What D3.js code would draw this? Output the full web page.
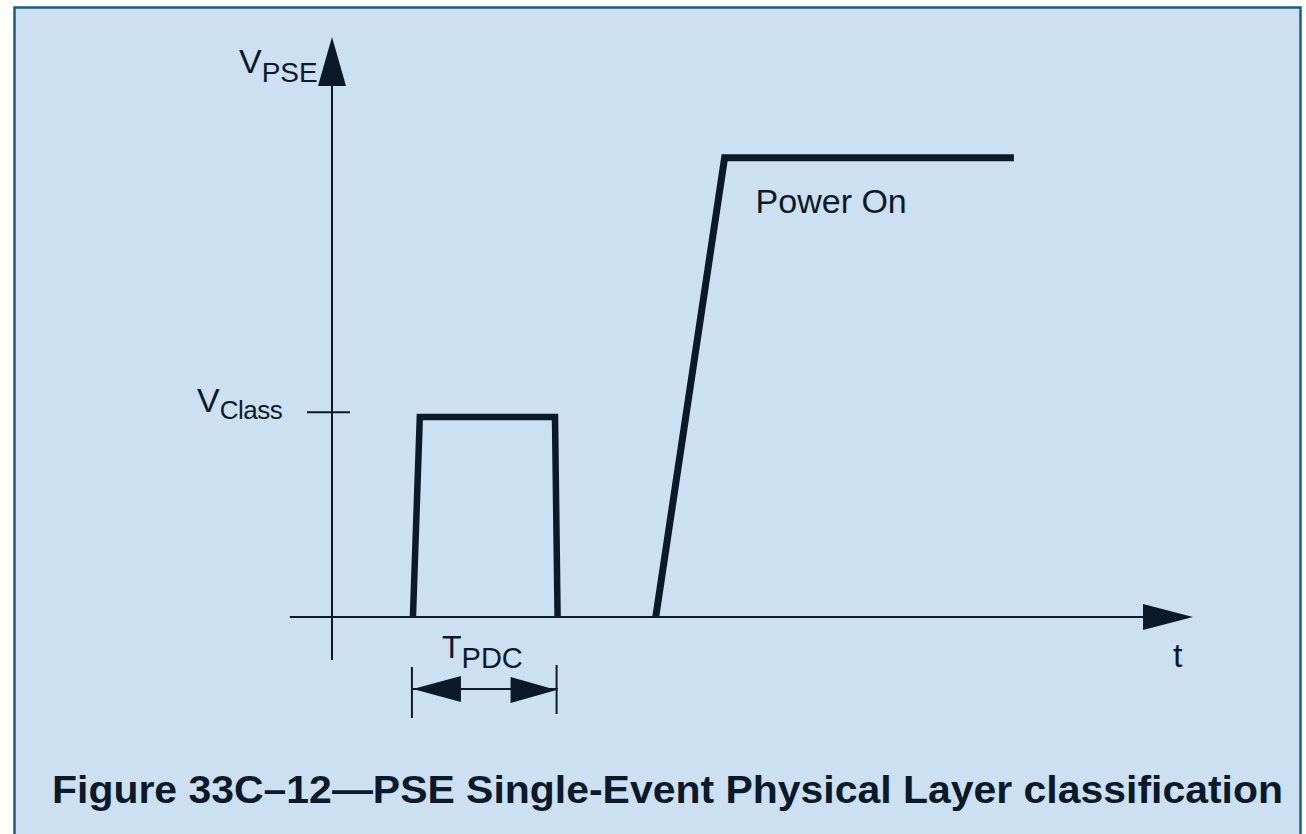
<!DOCTYPE html>
<html>
<head>
<meta charset="utf-8">
<script src="https://cdn.jsdelivr.net/npm/d3@7/dist/d3.min.js"></script>
<style>
  html, body { margin: 0; padding: 0; background: #ffffff; }
  svg { display: block; }
  text { font-family: "Liberation Sans", Arial, sans-serif; fill: #0b1a2b; }
</style>
</head>
<body>
<div id="chart"></div>
<script>
// Data (time and voltage in arbitrary units)
const tExtent = [-4.9, 100];      // t axis from left stub to arrow tip
const vExtent = [-7.4, 100];      // V axis from bottom stub to arrow tip
const vClass = 35.3;              // V_Class tick level
const classPulse = [[9.4, 0], [10.2, 34.5], [25.9, 34.5], [26.2, 0]];
const powerOn = [[37.6, 0], [45.6, 79.2], [79.2, 79.2]];
const tpdcSpan = [9.4, 26.2];     // T_PDC dimension
const titleText = "Figure 33C\u201312\u2014PSE Single-Event Physical Layer classification";

const W = 1306, H = 834;
const ink = "#0b1a2b";

const svg = d3.select("#chart").append("svg")
    .attr("width", W)
    .attr("height", H);

// Panel
svg.append("rect")
    .attr("x", 14.5).attr("y", 7.5)
    .attr("width", 1286).attr("height", H + 20)
    .attr("fill", "#cce0f1")
    .attr("stroke", "#1b5e7b")
    .attr("stroke-width", 2.5);

// Scales
const x = d3.scaleLinear().domain([0, 100]).range([332, 1193]);
const y = d3.scaleLinear().domain([0, 100]).range([617, 37]);

const line = d3.line().x(d => x(d[0])).y(d => y(d[1]));

// Axes lines
svg.append("line")
    .attr("x1", x(0)).attr("x2", x(0))
    .attr("y1", y(vExtent[0])).attr("y2", y(vExtent[1]) + 20)
    .attr("stroke", ink).attr("stroke-width", 2);

svg.append("line")
    .attr("x1", x(tExtent[0])).attr("x2", x(tExtent[1]) - 20)
    .attr("y1", y(0)).attr("y2", y(0))
    .attr("stroke", ink).attr("stroke-width", 2);

// Arrow heads
function arrow(tipX, tipY, dir, len, half) {
    // dir: "up", "right", "left"
    let pts;
    if (dir === "up") pts = [[tipX, tipY], [tipX - half, tipY + len], [tipX + half, tipY + len]];
    else if (dir === "right") pts = [[tipX, tipY], [tipX - len, tipY - half], [tipX - len, tipY + half]];
    else pts = [[tipX, tipY], [tipX + len, tipY - half], [tipX + len, tipY + half]];
    svg.append("path")
        .attr("d", "M" + pts.map(p => p.join(",")).join("L") + "Z")
        .attr("fill", ink);
}
arrow(x(0), y(vExtent[1]), "up", 49, 14);
arrow(x(tExtent[1]), y(0), "right", 50, 13);

// V_Class tick
svg.append("line")
    .attr("x1", x(0) - 25).attr("x2", x(0) + 18)
    .attr("y1", y(vClass)).attr("y2", y(vClass))
    .attr("stroke", ink).attr("stroke-width", 2);

// Waveforms
svg.append("path")
    .attr("d", line(classPulse))
    .attr("fill", "none")
    .attr("stroke", ink)
    .attr("stroke-width", 6.5)
    .attr("stroke-linejoin", "miter");

svg.append("path")
    .attr("d", line(powerOn))
    .attr("fill", "none")
    .attr("stroke", ink)
    .attr("stroke-width", 7)
    .attr("stroke-linejoin", "miter");

// T_PDC dimension
const dimY = 689;
const [d0, d1] = tpdcSpan.map(x);
svg.append("line")
    .attr("x1", d0 - 1).attr("x2", d0 - 1).attr("y1", 667).attr("y2", 718)
    .attr("stroke", ink).attr("stroke-width", 2);
svg.append("line")
    .attr("x1", d1 - 1).attr("x2", d1 - 1).attr("y1", 665).attr("y2", 714)
    .attr("stroke", ink).attr("stroke-width", 2);
svg.append("line")
    .attr("x1", d0).attr("x2", d1).attr("y1", dimY).attr("y2", dimY)
    .attr("stroke", ink).attr("stroke-width", 2);
arrow(d0, dimY, "left", 48, 13);
arrow(d1 - 1, dimY + 1, "right", 46, 13);

// Labels
const vpse = svg.append("text").attr("x", 239).attr("y", 73);
vpse.append("tspan").attr("font-size", 34).text("V");
vpse.append("tspan").attr("font-size", 28).attr("dy", 9).text("PSE");

const vcl = svg.append("text").attr("x", 197).attr("y", y(vClass));
vcl.append("tspan").attr("font-size", 34).text("V");
vcl.append("tspan").attr("font-size", 26).attr("dy", 7).attr("letter-spacing", -0.5).text("Class");

const tp = svg.append("text").attr("x", 442).attr("y", 658);
tp.append("tspan").attr("font-size", 32).text("T");
tp.append("tspan").attr("font-size", 29).attr("dy", 10).text("PDC");

svg.append("text")
    .attr("x", x(powerOn[1][0]) + 31).attr("y", 213)
    .attr("font-size", 34)
    .text("Power On");

svg.append("text")
    .attr("x", 1173).attr("y", 667)
    .attr("font-size", 34)
    .text("t");

// Title
svg.append("text")
    .attr("x", 52).attr("y", 803)
    .attr("font-size", 39)
    .attr("font-weight", "bold")
    .attr("textLength", 1231)
    .attr("lengthAdjust", "spacingAndGlyphs")
    .text(titleText);
</script>
</body>
</html>
